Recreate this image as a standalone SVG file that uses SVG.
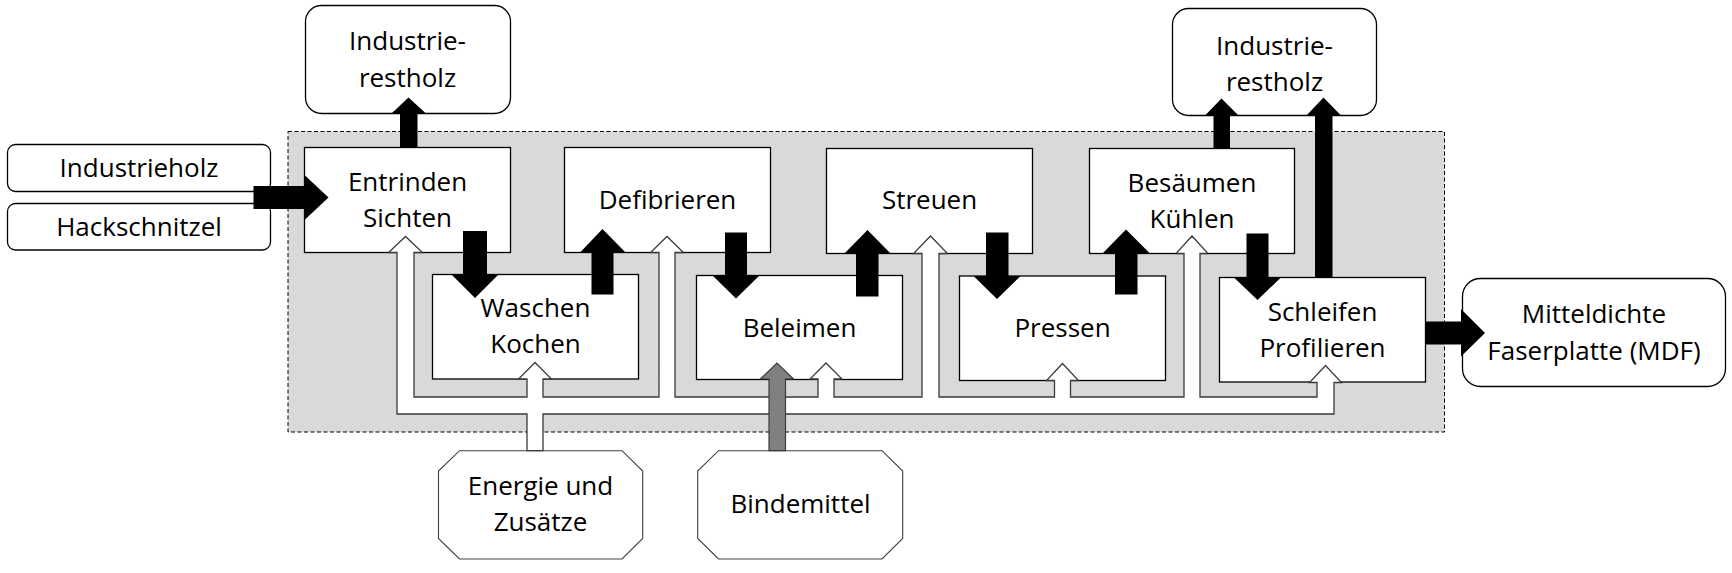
<svg xmlns="http://www.w3.org/2000/svg" width="1732" height="573" viewBox="0 0 1732 573">
<style>
.t{font-family:"Open Sans","Noto Sans","Liberation Sans",sans-serif;font-size:26px;fill:#000;text-anchor:middle}
.box{fill:#fff;stroke:#000;stroke-width:1.3}
.rbox{fill:#fff;stroke:#000;stroke-width:1.3}
.oct{fill:#fff;stroke:#404040;stroke-width:1.1}
.blk{fill:#000;stroke:none}
.pipe{fill:#fff;stroke:#3a3a3a;stroke-width:1.3;stroke-linejoin:miter}
.gry{fill:#808080;stroke:#3a3a3a;stroke-width:1.2}
</style>
<rect width="1732" height="573" fill="#fff"/>
<g id="system">
<rect x="288" y="131.5" width="1156.5" height="300.5" fill="#d9d9d9" stroke="#000" stroke-width="1" stroke-dasharray="4 2.5"/>
</g>
<g id="industrieholz"><rect class="rbox" x="7.5" y="144.5" width="263" height="47" rx="8"/><text class="t" x="139" y="177.3">Industrieholz</text></g>
<g id="hackschnitzel"><rect class="rbox" x="7.5" y="203.5" width="263" height="46.5" rx="8"/><text class="t" x="139" y="236">Hackschnitzel</text></g>
<g id="restholz1"><rect class="rbox" x="305.5" y="5.5" width="205" height="108" rx="16"/><text class="t" x="407.5" y="50">Industrie-</text><text class="t" x="407.5" y="87.3">restholz</text></g>
<g id="restholz2"><rect class="rbox" x="1172.5" y="8.5" width="204" height="107" rx="16"/><text class="t" x="1274.5" y="55">Industrie-</text><text class="t" x="1274.5" y="90.7">restholz</text></g>
<g id="mdf"><rect class="rbox" x="1462.5" y="278.5" width="263" height="108" rx="18"/><text class="t" x="1594" y="323.3">Mitteldichte</text><text class="t" x="1594" y="360">Faserplatte (MDF)</text></g>
<g id="energie"><polygon class="oct" points="459.5,450.7 622,450.7 642.7,471 642.7,538.5 622,559 459.5,559 438.5,538.5 438.5,471"/><text class="t" x="540.5" y="495">Energie und</text><text class="t" x="540.5" y="530.7">Zusätze</text></g>
<g id="bindemittel"><polygon class="oct" points="718.5,450.7 882,450.7 902.7,471 902.7,538.5 882,559 718.5,559 697.7,538.5 697.7,471"/><text class="t" x="800.5" y="513.3">Bindemittel</text></g>
<g id="entrinden"><rect class="box" x="304.5" y="147.5" width="206" height="105"/><text class="t" x="407.5" y="191">Entrinden</text><text class="t" x="407.5" y="226.7">Sichten</text></g>
<g id="defibrieren"><rect class="box" x="564.5" y="147.5" width="206" height="105"/><text class="t" x="667.5" y="209.3">Defibrieren</text></g>
<g id="streuen"><rect class="box" x="826.5" y="148.5" width="206" height="105"/><text class="t" x="929.5" y="209.3">Streuen</text></g>
<g id="besaeumen"><rect class="box" x="1089.5" y="148.5" width="205" height="105"/><text class="t" x="1192" y="191.7">Besäumen</text><text class="t" x="1192" y="227.7">Kühlen</text></g>
<g id="waschen"><rect class="box" x="432.5" y="274.5" width="206" height="104.5"/><text class="t" x="535.5" y="317.3">Waschen</text><text class="t" x="535.5" y="353.3">Kochen</text></g>
<g id="beleimen"><rect class="box" x="696.5" y="275.5" width="206" height="104"/><text class="t" x="799.5" y="336.7">Beleimen</text></g>
<g id="pressen"><rect class="box" x="959.5" y="276" width="206" height="104.5"/><text class="t" x="1062.5" y="337.3">Pressen</text></g>
<g id="schleifen"><rect class="box" x="1219.5" y="277.5" width="206" height="104.5"/><text class="t" x="1322.5" y="320.7">Schleifen</text><text class="t" x="1322.5" y="356.7">Profilieren</text></g>
<g id="connectors">
<path class="pipe" d="M397,414 V252.5 H388.5 L405.5,236.5 L422.5,252.5 H414 V397 H527 V379 H518.5 L535,362.5 L551.5,379 H543 V397 H659 V252.5 H650.5 L667,236.5 L683.5,252.5 H675 V397 H818 V379 H810 L826,363 L842,379 H834 V397 H922 V253.5 H913.5 L930.5,236 L947.5,253.5 H939 V397 H1054.5 V380.5 H1046.5 L1062.5,363.5 L1078.5,380.5 H1070.5 V397 H1184 V253.5 H1176 L1192,236 L1208,253.5 H1200 V397 H1317 V382.5 H1309.5 L1325.5,365.5 L1341.5,382.5 H1334 V414 H543 V450.7 H527 V414 Z"/>
<polygon class="gry" points="769,450.7 769,379 760.5,379 777,363 793.5,379 785.5,379 785.5,450.7"/>
<polygon class="blk" points="463,231 487,231 487,274.5 498.5,274.5 475,298 451.5,274.5 463,274.5"/>
<polygon class="blk" points="725,232.5 747,232.5 747,275.5 759.5,275.5 736,298.5 712.5,275.5 725,275.5"/>
<polygon class="blk" points="986,232.5 1008.5,232.5 1008.5,276 1020.5,276 997,299 973.5,276 986,276"/>
<polygon class="blk" points="1246.5,233.5 1268.5,233.5 1268.5,277.5 1281,277.5 1257.5,300 1234,277.5 1246.5,277.5"/>
<polygon class="blk" points="591.5,294.5 613.5,294.5 613.5,252.5 625.5,252.5 602.5,229 580,252.5 591.5,252.5"/>
<polygon class="blk" points="856,296.5 878.5,296.5 878.5,253.5 890.5,253.5 867.5,230 844.5,253.5 856,253.5"/>
<polygon class="blk" points="1115,294.5 1137.5,294.5 1137.5,253.5 1150,253.5 1126,229.5 1102.5,253.5 1115,253.5"/>
<polygon class="blk" points="400,147.5 417.5,147.5 417.5,113.5 426,113.5 408.5,97.5 391.5,113.5 400,113.5"/>
<polygon class="blk" points="1213.5,148.5 1230,148.5 1230,115.5 1238.5,115.5 1221.5,98.5 1205,115.5 1213.5,115.5"/>
<polygon class="blk" points="1315,277.5 1332.5,277.5 1332.5,115.5 1341,115.5 1323.5,97.5 1306.5,115.5 1315,115.5"/>
<polygon class="blk" points="253.5,186 304.5,186 304.5,175 328.5,197.5 304.5,220 304.5,209 253.5,209"/>
<polygon class="blk" points="1425.5,321.5 1461,321.5 1461,309 1485,333 1461,356.5 1461,344.5 1425.5,344.5"/>
</g>
</svg>
